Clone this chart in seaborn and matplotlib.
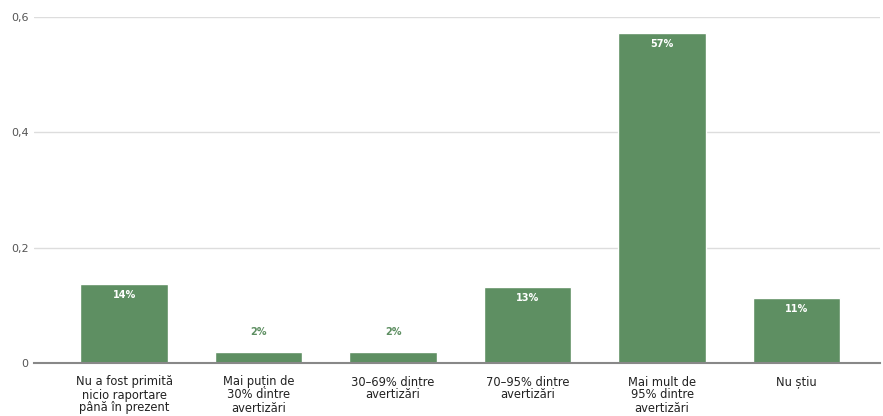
import matplotlib
matplotlib.use("Agg")
import matplotlib.pyplot as plt
import seaborn as sns
import pandas as pd

categories = ["Nu a fost primită\nnicio raportare\npână în prezent",
              "Mai puțin de\n30% dintre\navertizări",
              "30–69% dintre\navertizări",
              "70–95% dintre\navertizări",
              "Mai mult de\n95% dintre\navertizări",
              "Nu știu"]
values = [0.137, 0.019, 0.019, 0.132, 0.572, 0.113]
labels = ["14%", "2%", "2%", "13%", "57%", "11%"]
yticks = [0, 0.2, 0.4, 0.6]
ytick_labels = ["0", "0,2", "0,4", "0,6"]

sns.set_theme(style="white")
plt.rcParams['font.family'] = ['DejaVu Sans']

df = pd.DataFrame({"cat": categories, "val": values})
fig = plt.figure(figsize=(8.83, 4.16), dpi=100)
ax = fig.add_axes([34/883, 1-363/416, (880-34)/883, (363-17)/416])
color = "#5e8f62"
sns.barplot(data=df, x="cat", y="val", color=color, saturation=1, width=0.65, ax=ax, zorder=3)
ax.set_ylim(0, 0.6)
ax.set_xlim(-0.67, 5.62)
ax.set_yticks(yticks)
ax.set_yticklabels(ytick_labels, color="#555555", fontsize=8)
ax.yaxis.grid(True, color="#dddddd", linewidth=1, zorder=0)
ax.set_xlabel("")
ax.set_ylabel("")
for s in ["top", "right", "left"]:
    ax.spines[s].set_visible(False)
ax.spines["bottom"].set_color("#888888")
ax.spines["bottom"].set_linewidth(1.5)
ax.spines["bottom"].set_zorder(4)
ax.tick_params(axis="x", labelsize=8.3, colors="#222222", length=0, pad=9)
ax.tick_params(axis="y", length=0, pad=4)
for lab in ax.get_xticklabels():
    lab.set_linespacing(1.0)

for i, (v, t) in enumerate(zip(values, labels)):
    if v > 0.05:
        ax.text(i, v - 0.01, t, ha="center", va="top", color="white", fontsize=7, fontweight="bold", zorder=5)
    else:
        ax.text(i, v + 0.026, t, ha="center", va="bottom", color=color, fontsize=7, fontweight="bold", zorder=5)

fig.savefig("out.png", dpi=100)
